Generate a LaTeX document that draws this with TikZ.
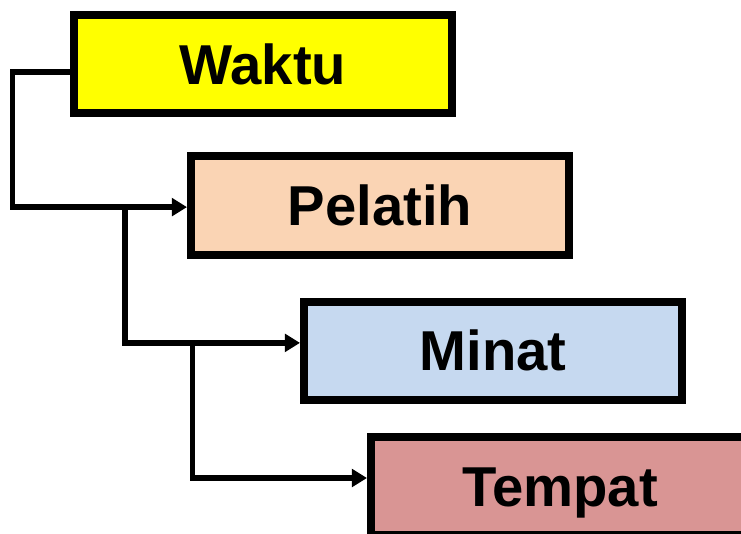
\documentclass[tikz,border=0pt]{standalone}
\usepackage{fontspec}
\setmainfont{Liberation Sans}
\usetikzlibrary{arrows.meta}

\definecolor{boxYellow}{HTML}{FFFF00}
\definecolor{boxPeach}{HTML}{FAD4B4}
\definecolor{boxBlue}{HTML}{C6D9F0}
\definecolor{boxRose}{HTML}{D99594}

\begin{document}
\begin{tikzpicture}[
    >={Triangle[length=0.38cm, width=0.44cm]},
    box/.style={draw=black, line width=0.2cm, minimum width=9.45cm, minimum height=2.45cm,
        inner sep=0pt, font=\fontsize{40}{46}\selectfont\bfseries,
        text height=28.6pt, text depth=0pt},
    link/.style={->, line width=0.14cm}
]

    % === CANVAS ===
    \useasboundingbox (0,0) rectangle (18.525,13.325);

    % === THE BOXES (stepped down to the right) ===
    \node[box, fill=boxYellow] (Waktu)   at (6.575, 11.725) {Waktu};
    \node[box, fill=boxPeach]  (Pelatih) at (9.5, 8.1875)   {Pelatih};
    \node[box, fill=boxBlue]   (Minat)   at (12.325, 4.5625) {Minat};
    \node[box, fill=boxRose]   (Tempat)  at (14.0, 1.175)   {Tempat};

    % === ENTRY / EXIT POINTS ===
    \coordinate (WaktuOut)  at ([yshift=-0.2cm]Waktu.west);
    \coordinate (PelatihIn) at ([yshift=-0.04cm]Pelatih.west);
    \coordinate (MinatIn)   at ([yshift=0.19cm]Minat.west);
    \coordinate (TempatIn)  at ([yshift=0.2cm]Tempat.west);

    % x-positions of the vertical runs
    \coordinate (SpineA) at (0.3125, 0);
    \coordinate (SpineB) at (3.125, 0);
    \coordinate (SpineC) at (4.8125, 0);

    % === CONNECTORS ===
    \draw[link] (WaktuOut) -- (WaktuOut -| SpineA) |- (PelatihIn);
    \draw[link] (PelatihIn -| SpineB) |- (MinatIn);
    \draw[link] (MinatIn -| SpineC) |- (TempatIn);

\end{tikzpicture}
\end{document}
